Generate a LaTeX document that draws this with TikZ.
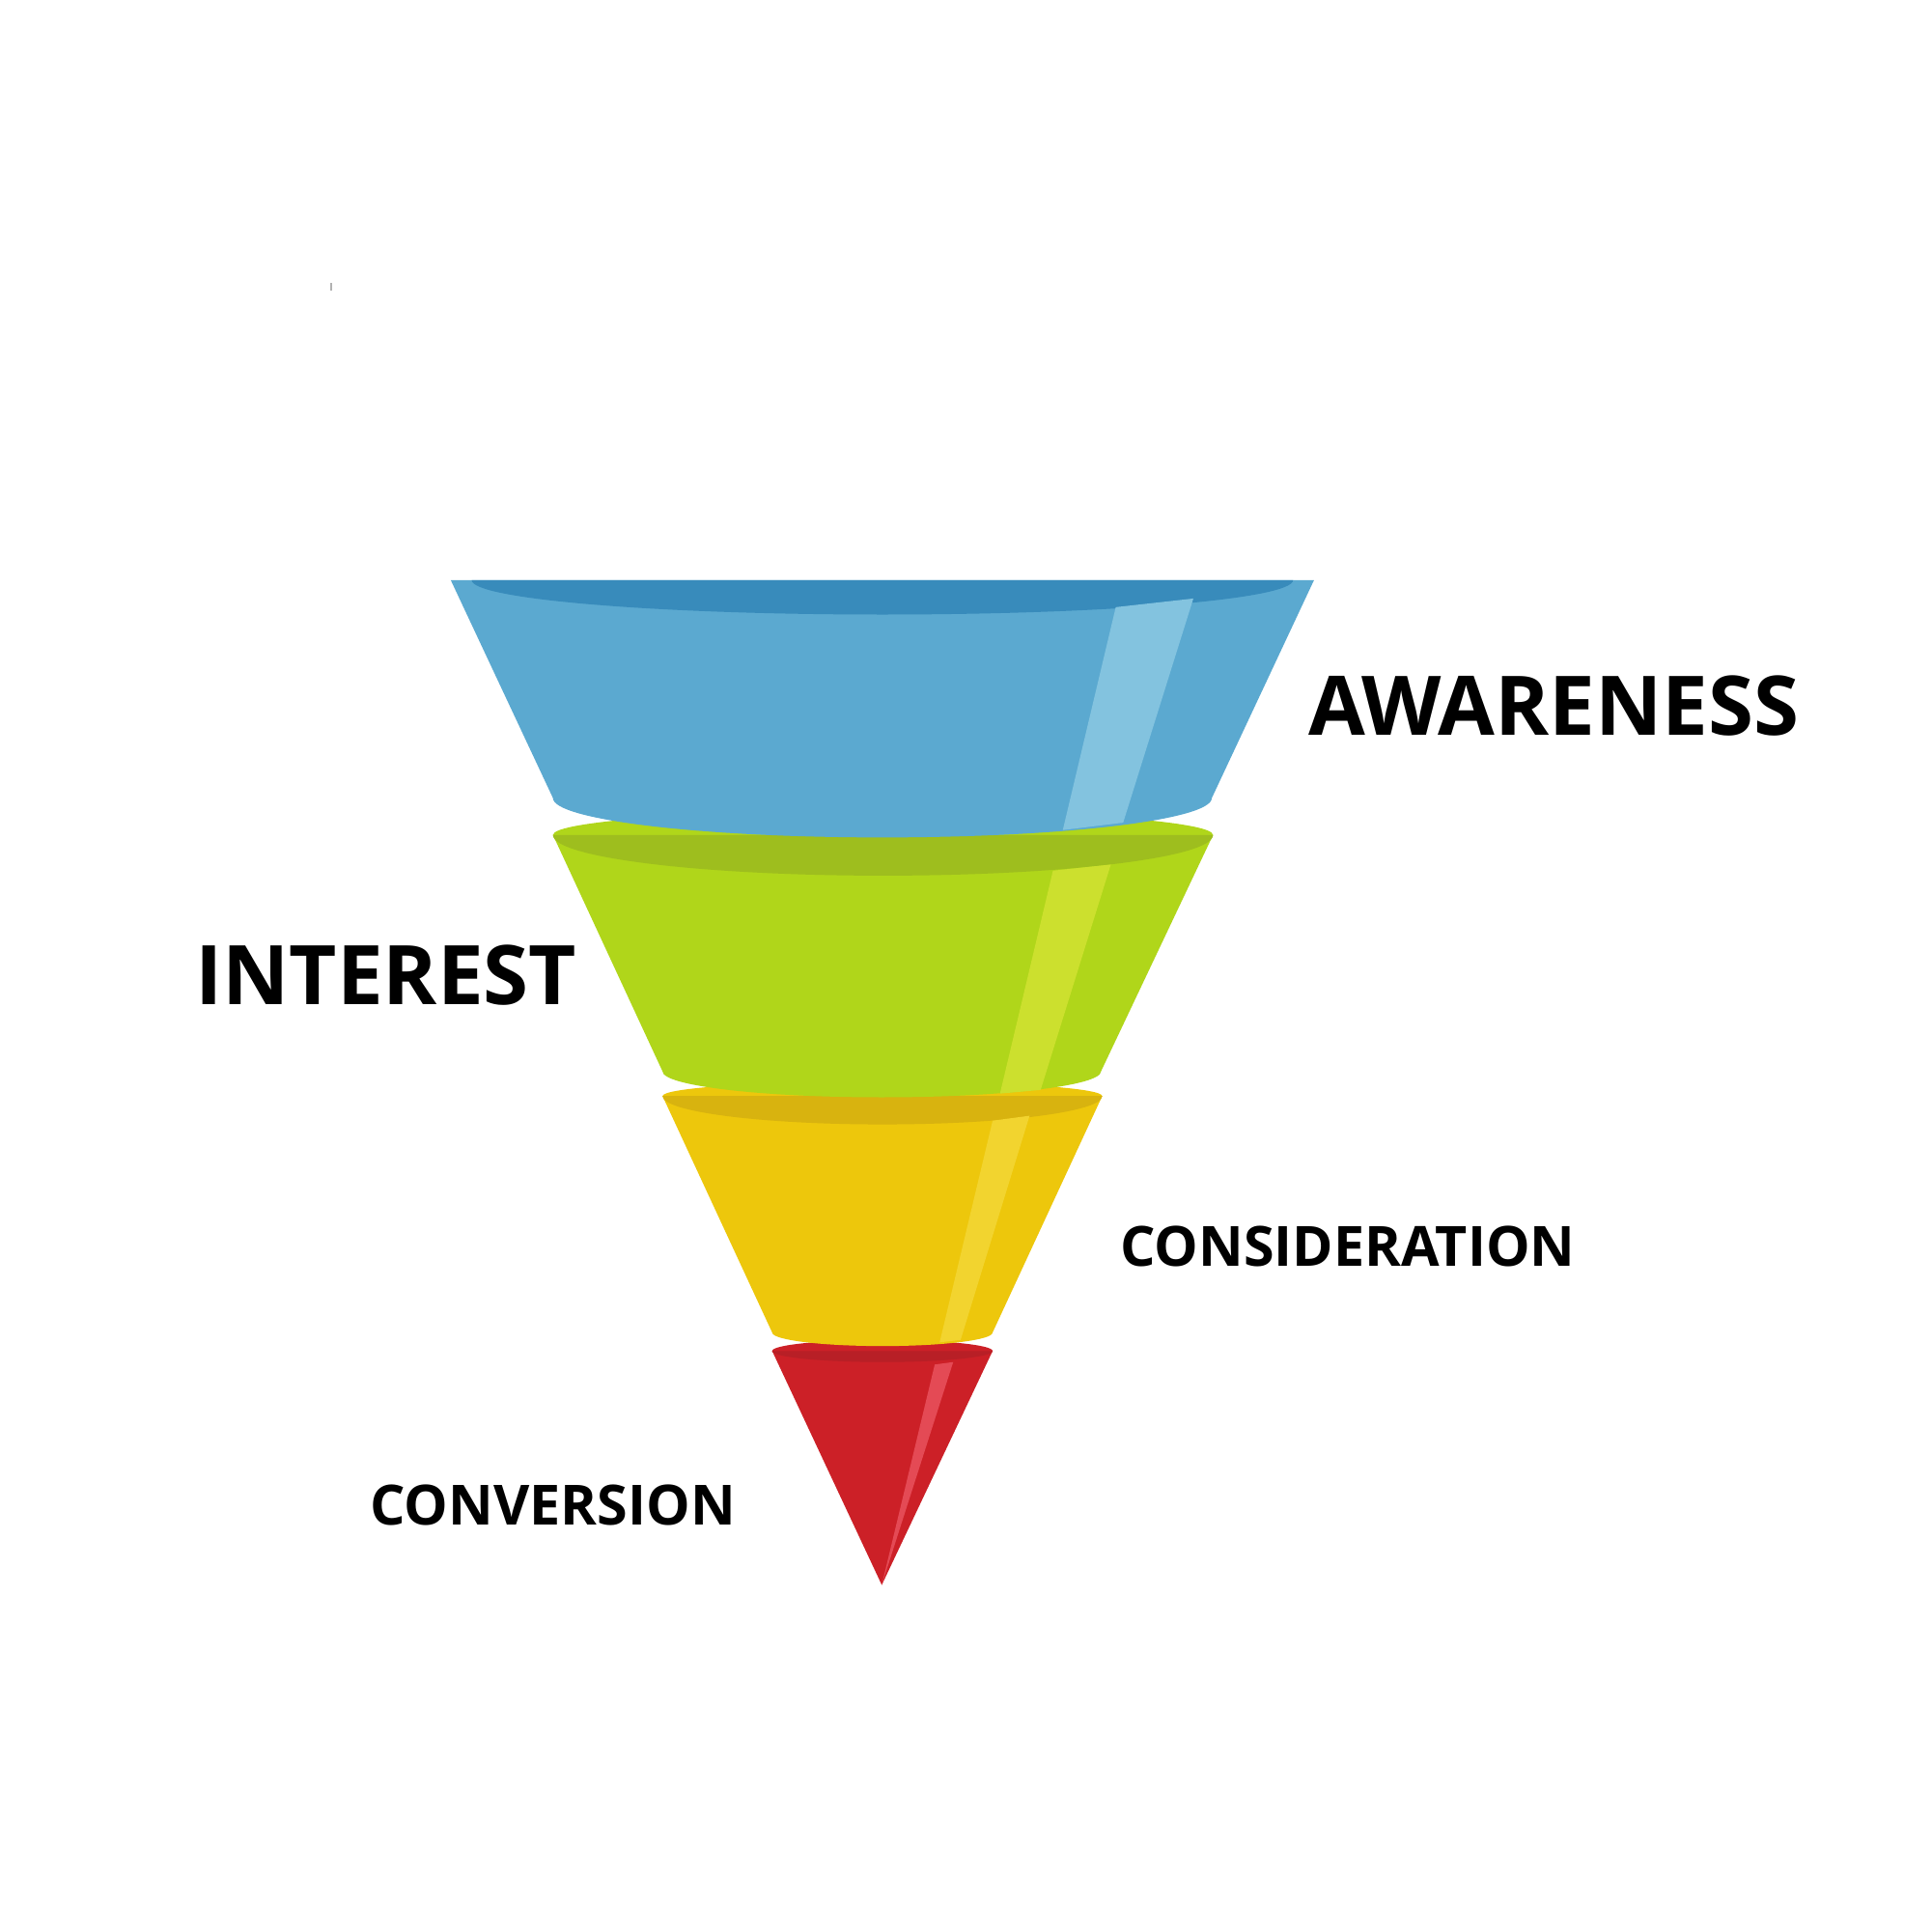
\documentclass[tikz,border=0pt]{standalone}
\usepackage{fontspec}
\setmainfont{Open Sans}
\begin{document}
\begin{tikzpicture}[x=0.01cm,y=0.01cm,yscale=-1,
  big/.style={font=\fontsize{19}{22}\bfseries\selectfont,anchor=base west,inner sep=0},
  small/.style={font=\fontsize{12.8}{15}\bfseries\selectfont,anchor=base west,inner sep=0}]
\definecolor{bl}{HTML}{5BA9D0}\definecolor{bld}{HTML}{388BBB}\definecolor{bls}{HTML}{83C3DF}
\definecolor{gr}{HTML}{B0D61A}\definecolor{grd}{HTML}{9EBE1E}\definecolor{grs}{HTML}{CCE02E}
\definecolor{ye}{HTML}{EDC70C}\definecolor{yed}{HTML}{D8B30F}\definecolor{yes}{HTML}{F2D42F}
\definecolor{re}{HTML}{CC2027}\definecolor{red2}{HTML}{B81F26}\definecolor{res}{HTML}{E44A55}
\useasboundingbox[fill=white] (0,0) rectangle (1568,1568);
\draw[gray!60] (269,230) -- (269,236);
% red
\fill[re] (627,1097) -- (716,1287) -- (806,1097) -- cycle;
\fill[re] (716.5,1097) ellipse[x radius=89.5,y radius=9];
\fill[red2] (627,1097) arc[start angle=180,end angle=0,x radius=89.5,y radius=9] -- cycle;
\fill[res] (759,1108) -- (774,1106) -- (716,1287) -- cycle;
% yellow
\fill[ye] (538,890) -- (627,1082) arc[start angle=180,end angle=0,x radius=89.5,y radius=11] -- (895,890) -- cycle;
\fill[ye] (716.5,890) ellipse[x radius=178.5,y radius=12];
\fill[yed] (538,890) arc[start angle=180,end angle=0,x radius=178.5,y radius=23] -- cycle;
\fill[yes] (806,910) -- (836,906) -- (780,1088) -- (763,1090) -- cycle;
% green
\fill[gr] (449,678) -- (538,870) arc[start angle=180,end angle=0,x radius=178,y radius=21] -- (985,678) -- cycle;
\fill[gr] (717,678) ellipse[x radius=268,y radius=20];
\fill[grd] (449,678) arc[start angle=180,end angle=0,x radius=268,y radius=33] -- cycle;
\fill[grs] (855,707) -- (902,702) -- (845,885) -- (812,888) -- cycle;
% blue
\fill[bl] (366,471) -- (449,648) arc[start angle=180,end angle=0,x radius=267.5,y radius=32] -- (1067,471) -- cycle;
\fill[bld] (383,471) arc[start angle=180,end angle=0,x radius=333.5,y radius=28] -- cycle;
\fill[bls] (906,493) -- (969,486) -- (912,668) -- (863,674) -- cycle;
% labels
\node[big] (aw) at (1062,597) {AWARENESS};
\node[big] (in) at (158,816) {INTEREST};
\node[small] (co) at (909,1028) {CONSIDERATION};
\node[small] (cv) at (300,1238) {CONVERSION};
\end{tikzpicture}
\end{document}
